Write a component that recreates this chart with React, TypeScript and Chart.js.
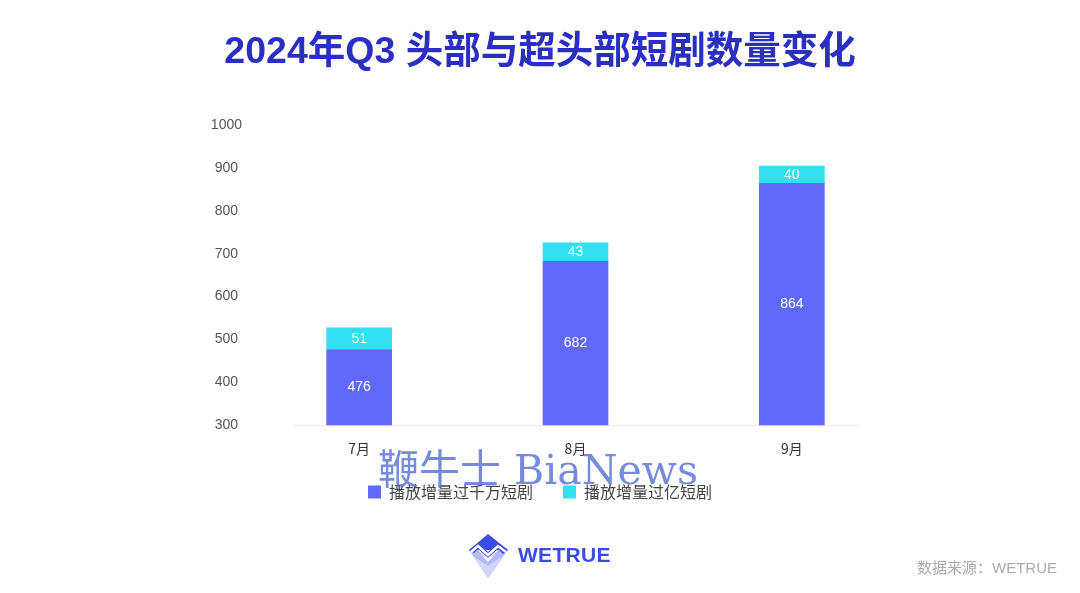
import React, { useEffect, useRef } from "react";
import { Chart, registerables } from "chart.js";

Chart.register(...registerables);

const titleText = "2024年Q3 头部与超头部短剧数量变化";
const categories = ["7月", "8月", "9月"];
const seriesNames = ["播放增量过千万短剧", "播放增量过亿短剧"];
const tenMillionValues = [476, 682, 864];
const hundredMillionValues = [51, 43, 40];
const seriesColors = ["#6069F9", "#33E0EF"];
const yMin = 300;
const yMax = 1000;
const yStep = 100;

const SANS = '"Liberation Sans", "Noto Sans CJK SC", sans-serif';
const CJK = '"Noto Sans CJK SC", "Liberation Sans", sans-serif';

const valueLabelPlugin = {
  id: "valueLabels",
  afterDatasetsDraw(chart: any) {
    const { ctx, chartArea } = chart;
    ctx.save();
    ctx.fillStyle = "#ffffff";
    ctx.font = `14px ${SANS}`;
    ctx.textAlign = "center";
    ctx.textBaseline = "middle";
    chart.data.datasets.forEach((ds: any, i: number) => {
      const meta = chart.getDatasetMeta(i);
      meta.data.forEach((el: any, j: number) => {
        const { x, y, base } = el.getProps(["x", "y", "base"], true);
        const top = Math.max(Math.min(y, base), chartArea.top);
        const bottom = Math.min(Math.max(y, base), chartArea.bottom);
        ctx.fillText(String(ds.data[j]), x, (top + bottom) / 2);
      });
    });
    ctx.restore();
  },
};

const baselinePlugin = {
  id: "baseline",
  beforeDatasetsDraw(chart: any) {
    const { ctx, chartArea, scales } = chart;
    const xs = scales.x;
    const first = xs.getPixelForValue(0);
    const last = xs.getPixelForValue(categories.length - 1);
    const ext = 66;
    ctx.save();
    ctx.strokeStyle = "#ebebeb";
    ctx.lineWidth = 1;
    ctx.beginPath();
    ctx.moveTo(first - ext, Math.round(chartArea.bottom) + 0.5);
    ctx.lineTo(last + ext, Math.round(chartArea.bottom) + 0.5);
    ctx.stroke();
    ctx.restore();
  },
};

// pulls the legend row a little closer to the axis labels while keeping wide item spacing
const LEGEND_SHIFT = 10;
const legendShiftPlugin = {
  id: "legendShift",
  afterLayout(chart: any) {
    const lg = chart.legend;
    if (lg) {
      lg.top -= LEGEND_SHIFT;
      lg.bottom -= LEGEND_SHIFT;
      if (lg.legendHitBoxes) lg.legendHitBoxes.forEach((b: any) => (b.top -= LEGEND_SHIFT));
    }
  },
};

function ChartCanvas() {
  const ref = useRef<HTMLCanvasElement | null>(null);
  useEffect(() => {
    if (!ref.current) return;
    const chart = new Chart(ref.current, {
      type: "bar",
      data: {
        labels: categories,
        datasets: [
          {
            label: seriesNames[0],
            data: tenMillionValues,
            backgroundColor: seriesColors[0],
            borderWidth: 0,
            barThickness: 65,
          },
          {
            label: seriesNames[1],
            data: hundredMillionValues,
            backgroundColor: seriesColors[1],
            borderWidth: 0,
            barThickness: 65,
          },
        ],
      },
      options: {
        responsive: false,
        animation: false,
        devicePixelRatio: 1,
        layout: { padding: { top: 30, left: 180, right: 180, bottom: 73 } },
        scales: {
          x: {
            stacked: true,
            grid: { display: false },
            border: { display: false },
            ticks: {
              color: "#333333",
              font: { size: 14, family: CJK },
              padding: 7,
            },
          },
          y: {
            stacked: true,
            min: yMin,
            max: yMax,
            grid: { display: false, drawTicks: false },
            border: { display: false },
            ticks: {
              stepSize: yStep,
              color: "#555555",
              font: { size: 14, family: SANS },
              crossAlign: "center",
              padding: 9,
              callback: (v: any) => String(v),
            },
            afterFit(scale: any) {
              scale.width = 71;
            },
          },
        },
        plugins: {
          title: {
            display: true,
            text: titleText,
            color: "#2A2FC2",
            font: { size: 37.5, weight: "bold", family: SANS },
            padding: { top: 0, bottom: 50 },
          },
          legend: {
            position: "bottom",
            labels: {
              boxWidth: 13,
              boxHeight: 13,
              padding: 30,
              color: "#444444",
              font: { size: 16, family: CJK },
            },
          },
          tooltip: { enabled: false },
        },
      },
      plugins: [baselinePlugin, valueLabelPlugin, legendShiftPlugin],
    } as any);
    return () => chart.destroy();
  }, []);
  return <canvas ref={ref} width={1080} height={593} style={{ position: "absolute", left: 0, top: 0 }} />;
}

function Logo() {
  return (
    <div style={{ position: "absolute", left: 463, top: 530, display: "flex", alignItems: "center" }}>
      <svg width={50} height={50} viewBox="0 0 50 50">
        <polygon points="6,20 25,48 45,20 35,20 25,32 15,20" fill="#B4B9F6" />
        <polygon points="10,26 25,47 40,26 25,36" fill="#D3D6FA" />
        <polygon points="25,4 45,20 6,20" fill="#3D4CE2" />
        <polygon points="6,20 15,13 25,22 35,13 45,20 40,24 35,19 25,28 15,19 11,23" fill="#3D4CE2" />
        <polyline points="8,22 15,16 25,25 35,16 43,22" fill="none" stroke="#ffffff" strokeWidth={2.5} />
      </svg>
      <span
        style={{
          marginLeft: 5,
          fontFamily: SANS,
          fontWeight: "bold",
          fontSize: 21,
          letterSpacing: 0.3,
          color: "#3B4BE2",
        }}
      >
        WETRUE
      </span>
    </div>
  );
}

export default function App() {
  return (
    <div style={{ position: "absolute", left: 0, top: 0, width: 1080, height: 593, background: "#ffffff", overflow: "hidden" }}>
      <ChartCanvas />
      <div
        style={{
          position: "absolute",
          left: 378,
          top: 450,
          fontFamily: '"DejaVu Serif", "Noto Sans CJK SC", serif',
          fontSize: 41,
          lineHeight: "41px",
          color: "rgba(78,108,212,0.78)",
          whiteSpace: "nowrap",
          pointerEvents: "none",
        }}
      >
        鞭牛士 BiaNews
      </div>
      <Logo />
      <div
        style={{
          position: "absolute",
          right: 23,
          top: 557,
          fontFamily: CJK,
          fontSize: 15,
          lineHeight: "20px",
          color: "#AAAAAA",
          whiteSpace: "nowrap",
        }}
      >
        数据来源：<span style={{ fontFamily: SANS }}>WETRUE</span>
      </div>
    </div>
  );
}
